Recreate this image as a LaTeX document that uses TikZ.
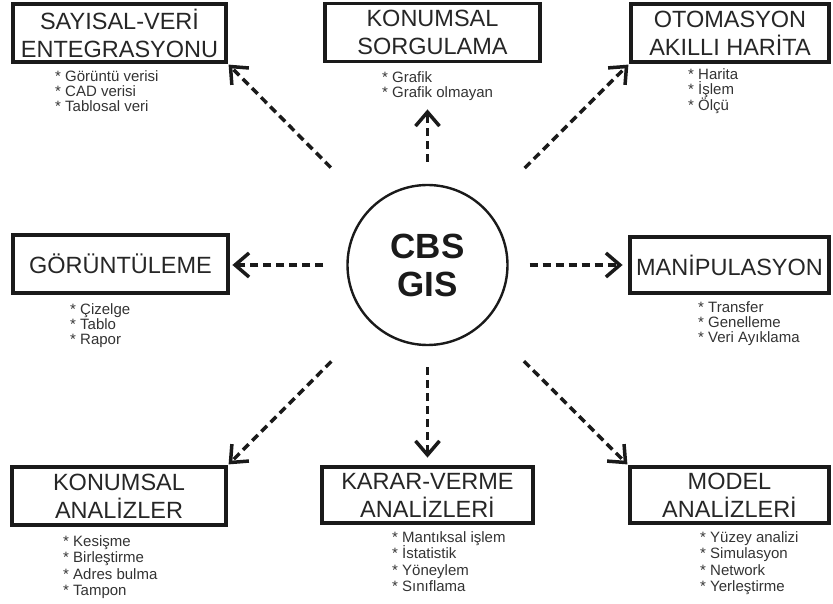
\documentclass[tikz,border=0pt]{standalone}
\usepackage{fontspec}
\setmainfont{Liberation Sans}
\usepackage{tikz}
\usetikzlibrary{arrows.meta}
\definecolor{cbsink}{HTML}{1A1A1A}
\definecolor{cbstext}{HTML}{262626}
\definecolor{cbsnote}{HTML}{333333}

\begin{document}
\begin{tikzpicture}[x=1pt,y=1pt,
  box/.style={draw=cbsink,line width=3.8pt,minimum height=58pt,inner sep=0pt,
    align=center,text=cbstext,font=\fontsize{23.5}{28}\selectfont},
  items/.style={anchor=north west,align=left,inner sep=0pt,text=cbsnote,
    font=\fontsize{15}{15}\selectfont},
  link/.style={draw=cbsink,line width=3.5pt,dash pattern=on 8pt off 5pt,
    -{Straight Barb[length=14pt,width=24pt]}}]
  \useasboundingbox (0,0) rectangle (833,603);

  \node[circle,draw=cbsink,line width=2.4pt,minimum size=160pt,inner sep=0pt,
    align=center,text=cbsink,font=\fontsize{35}{38}\selectfont\bfseries]
    (cbs) at (427.5,338) {CBS\\GIS};

  \node[box,minimum width=213pt] (sayisal) at (119.5,570) {SAYISAL-VERİ\\ENTEGRASYONU};
  \node[box,minimum width=215pt] (sorgu) at (432.5,570.5) {KONUMSAL\\SORGULAMA};
  \node[box,minimum width=198pt] (otomasyon) at (730,570) {OTOMASYON\\AKILLI HARİTA};
  \node[box,minimum width=215pt] (goruntu) at (120.5,339) {GÖRÜNTÜLEME};
  \node[box,minimum width=199pt,minimum height=56pt] (manip) at (729.5,338) {MANİPULASYON};
  \node[box,minimum width=214pt] (konanaliz) at (119,107) {KONUMSAL\\ANALİZLER};
  \node[box,minimum width=211pt,minimum height=56pt] (karar) at (427.5,108) {KARAR-VERME\\ANALİZLERİ};
  \node[box,minimum width=199pt,minimum height=56pt] (model) at (729.5,108) {MODEL\\ANALİZLERİ};

  \node[items] (sayisallist) at (55,533) {* Görüntü verisi\\* CAD verisi\\* Tablosal veri};
  \node[items] (sorgulist) at (382,532) {* Grafik\\* Grafik olmayan};
  \node[items] (otomasyonlist) at (688,535) {* Harita\\* İşlem\\* Ölçü};
  \node[items] (goruntulist) at (70,300) {* Çizelge\\* Tablo\\* Rapor};
  \node[items] (maniplist) at (698,302) {* Transfer\\* Genelleme\\* Veri Ayıklama};
  \node[items,font=\fontsize{15}{16.5}\selectfont] (konanalizlist) at (63,68)
    {* Kesişme\\* Birleştirme\\* Adres bulma\\* Tampon};
  \node[items,font=\fontsize{15}{16.5}\selectfont] (kararlist) at (392,72)
    {* Mantıksal işlem\\* İstatistik\\* Yöneylem\\* Sınıflama};
  \node[items,font=\fontsize{15}{16.5}\selectfont] (modellist) at (700,72)
    {* Yüzey analizi\\* Simulasyon\\* Network\\* Yerleştirme};

  \draw[link,shorten <=56pt,shorten >=1pt] (cbs) -- (sayisal.south east);
  \draw[link,shorten <=22pt,shorten >=46pt] (cbs) -- (cbs |- sorgu.south);
  \draw[link,shorten <=56pt,shorten >=1pt] (cbs) -- (otomasyon.south west);
  \draw[link,shorten <=23pt,shorten >=2.5pt] (cbs) -- (cbs -| goruntu.east);
  \draw[link,shorten <=21pt,shorten >=5.5pt] (cbs) -- (cbs -| manip.west);
  \draw[link,shorten <=55pt,shorten >=1pt] (cbs) -- (konanaliz.north east);
  \draw[link,shorten <=21pt,shorten >=7.5pt] (cbs) -- (cbs |- karar.north);
  \draw[link,shorten <=55pt,shorten >=1pt] (cbs) -- (model.north west);
\end{tikzpicture}
\end{document}
